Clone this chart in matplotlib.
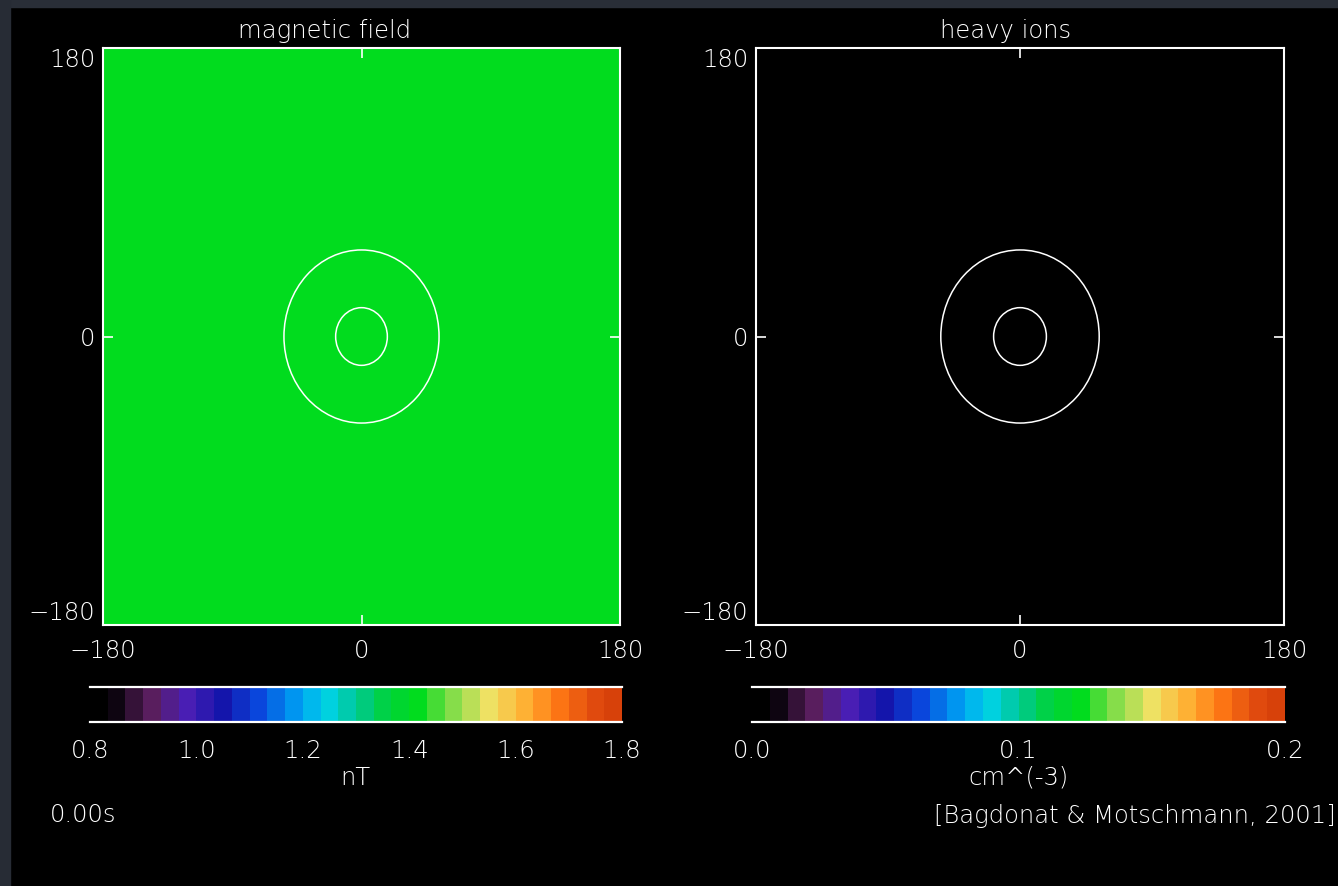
import matplotlib
matplotlib.use("Agg")
import matplotlib.pyplot as plt
from matplotlib.colors import LinearSegmentedColormap, Normalize
from matplotlib.patches import Ellipse, Rectangle

# domain of both panels
axis_lim = [-180, 180]
axis_ticks = [-180, 0, 180]

# magnetic field at t = 0 (uniform background field)
b_field = [[1.42]]
b_range = [0.8, 1.8]
b_ticks = [0.8, 1.0, 1.2, 1.4, 1.6, 1.8]

# heavy ion density at t = 0 (nothing picked up yet)
ion_density = [[0.0]]
ion_range = [0.0, 0.2]
ion_ticks = [0.0, 0.1, 0.2]

# obstacle contours (radius in grid units)
contour_radii = [18, 54]

panel_titles = ["magnetic field", "heavy ions"]
units = ["nT", "cm^(-3)"]
time_label = "0.00s"
credit = "[Bagdonat & Motschmann, 2001]"

# IDL-like rainbow table, black at the bottom
anchors = [
    (0.00, (0, 0, 0)), (0.02, (0, 0, 0)), (0.05, (30, 10, 35)),
    (0.10, (90, 30, 90)), (0.17, (75, 30, 180)), (0.24, (20, 20, 170)),
    (0.31, (10, 70, 220)), (0.38, (0, 150, 240)), (0.44, (0, 210, 235)),
    (0.50, (0, 200, 150)), (0.56, (0, 210, 60)), (0.62, (0, 220, 30)),
    (0.68, (120, 220, 70)), (0.76, (240, 225, 100)), (0.83, (255, 175, 50)),
    (0.89, (255, 120, 20)), (0.96, (225, 75, 15)), (1.00, (215, 65, 10)),
]
cmap = LinearSegmentedColormap.from_list(
    "idl_rainbow", [(p, tuple(c / 255 for c in rgb)) for p, rgb in anchors], N=30)

plt.rcParams['font.family'] = ['DejaVu Sans']
plt.rcParams['font.weight'] = 'light'
FS = 17.5

fig = plt.figure(figsize=(13.38, 8.86), dpi=100, facecolor="black")
W, H = 1338, 886


def fig_rect(x0, y0, x1, y1):
    # pixel box (top-left origin) -> figure fraction rect
    return [x0 / W, 1 - y1 / H, (x1 - x0) / W, (y1 - y0) / H]


# thin strip of the background image along the top and left edges
fig.add_artist(Rectangle((0, 1 - 7 / H), 1, 7 / H, transform=fig.transFigure,
                         color="#292e37", zorder=-5))
fig.add_artist(Rectangle((0, 0), 10 / W, 1, transform=fig.transFigure,
                         color="#272c35", zorder=-5))

panels = [
    dict(data=b_field, rng=b_range, ticks=b_ticks, box=(103, 48, 620, 625),
         cbox=(90, 687, 622, 722), title_x=325, unit_x=355),
    dict(data=ion_density, rng=ion_range, ticks=ion_ticks, box=(756, 48, 1284, 625),
         cbox=(752, 687, 1285, 722), title_x=1006, unit_x=1018),
]

for i, p in enumerate(panels):
    ax = fig.add_axes(fig_rect(*p["box"]))
    ax.set_facecolor("black")
    im = ax.imshow(p["data"], cmap=cmap, norm=Normalize(*p["rng"]),
                   extent=[axis_lim[0], axis_lim[1], axis_lim[0], axis_lim[1]],
                   origin="lower", aspect="auto", interpolation="nearest")
    for r in contour_radii:
        ax.add_patch(Ellipse((0, 0), 2 * r, 2 * r, fill=False,
                             edgecolor="white", lw=1.1))
    ax.set_xlim(axis_lim)
    ax.set_ylim(axis_lim)
    ax.set_xticks(axis_ticks)
    ax.set_yticks(axis_ticks)
    ax.set_xticklabels([str(t).replace("-", "\u2212") for t in axis_ticks])
    ax.set_yticklabels([str(t).replace("-", "\u2212") for t in axis_ticks])
    for s in ax.spines.values():
        s.set_color("white")
        s.set_linewidth(1.5)
    ax.tick_params(axis="both", direction="in", length=7, width=1.2,
                   top=True, right=True, colors="white", labelsize=FS)
    ax.tick_params(axis="x", pad=10)
    ax.tick_params(axis="y", pad=5.5)
    ylabs = ax.get_yticklabels()
    ylabs[0].set_va("bottom")
    ylabs[-1].set_va("top")

    cax = fig.add_axes(fig_rect(*p["cbox"]))
    cbar = fig.colorbar(im, cax=cax, orientation="horizontal", ticks=p["ticks"])
    cbar.outline.set_visible(False)
    cax.set_xticklabels(["%.1f" % t for t in p["ticks"]])
    cax.tick_params(axis="x", length=0, pad=12, colors="white", labelsize=FS)
    cax.axhline(1, color="white", lw=1.6, clip_on=False)
    cax.axhline(0, color="white", lw=1.6, clip_on=False)

    fig.text(p["title_x"] / W, 1 - 31 / H, panel_titles[i], color="white",
             fontsize=FS, ha="center", va="center")
    fig.text(p["unit_x"] / W, 1 - 778 / H, units[i], color="white",
             fontsize=FS, ha="center", va="center")

fig.text(50 / W, 1 - 815 / H, time_label, color="white", fontsize=FS,
         ha="left", va="center")
fig.text(1336 / W, 1 - 816 / H, credit, color="white", fontsize=FS,
         ha="right", va="center")

fig.savefig("out.png", dpi=100, facecolor=fig.get_facecolor())
